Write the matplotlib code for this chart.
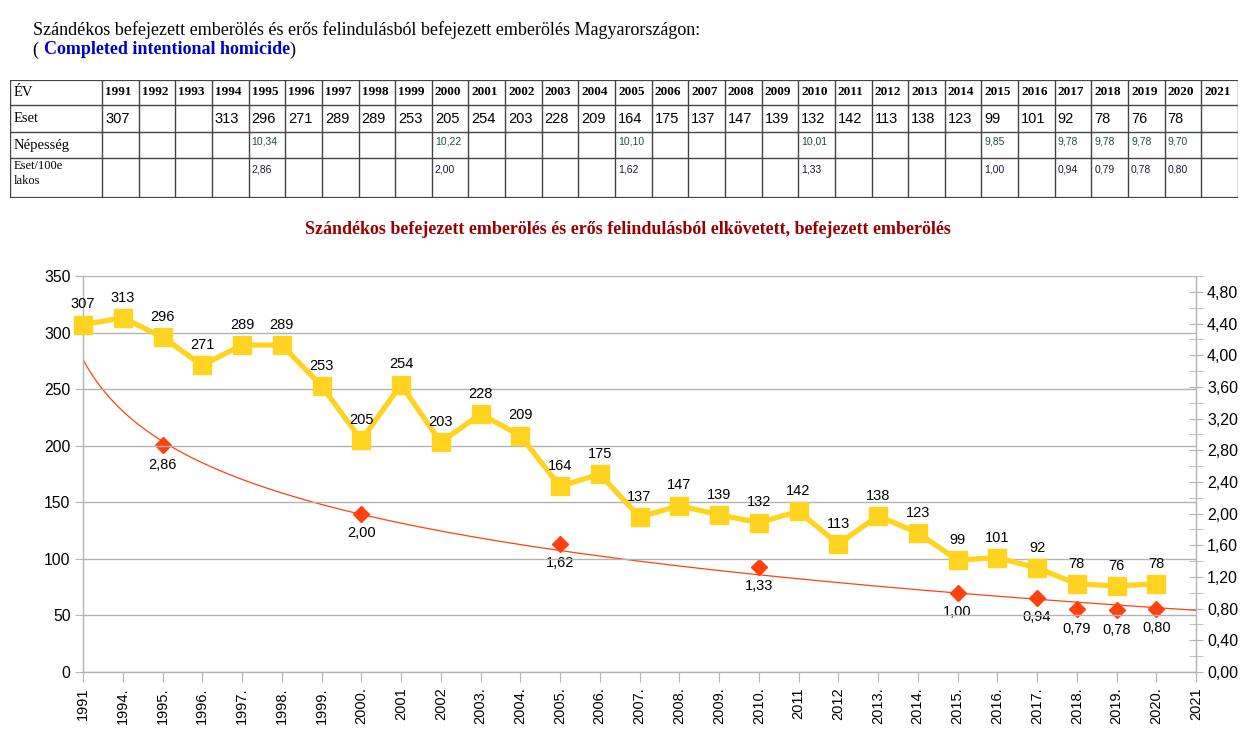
import numpy as np
import matplotlib
matplotlib.use("Agg")
import matplotlib.pyplot as plt
from matplotlib.ticker import MultipleLocator, FuncFormatter

# ---------------- data ----------------
table_years = list(range(1991, 2022))
table_eset = [307, None, None, 313, 296, 271, 289, 289, 253, 205, 254, 203, 228, 209,
              164, 175, 137, 147, 139, 132, 142, 113, 138, 123, 99, 101, 92, 78, 76, 78, None]
table_nep = [None, None, None, None, 10.34, None, None, None, None, 10.22, None, None, None, None,
             10.10, None, None, None, None, 10.01, None, None, None, None, 9.85, None, 9.78, 9.78,
             9.78, 9.70, None]
table_rate = [None, None, None, None, 2.86, None, None, None, None, 2.00, None, None, None, None,
              1.62, None, None, None, None, 1.33, None, None, None, None, 1.00, None, 0.94, 0.79,
              0.78, 0.80, None]
row_labels = ["ÉV", "Eset", "Népesség", "Eset/100e\nlakos"]

chart_labels = ["1991", "1994.", "1995.", "1996.", "1997.", "1998.", "1999.", "2000.", "2001",
                "2002", "2003.", "2004.", "2005.", "2006.", "2007.", "2008.", "2009.", "2010.",
                "2011", "2012", "2013.", "2014.", "2015.", "2016.", "2017.", "2018.", "2019.",
                "2020.", "2021"]
chart_eset = [307, 313, 296, 271, 289, 289, 253, 205, 254, 203, 228, 209, 164, 175, 137, 147,
              139, 132, 142, 113, 138, 123, 99, 101, 92, 78, 76, 78, None]
chart_rate = [None, None, 2.86, None, None, None, None, 2.00, None, None, None, None, 1.62, None,
              None, None, None, 1.33, None, None, None, None, 1.00, None, 0.94, 0.79, 0.78, 0.80,
              None]

title_line1 = "Szándékos befejezett emberölés és erős felindulásból befejezett emberölés Magyarországon:"
title_line2 = "Completed intentional homicide"
chart_title = "Szándékos befejezett emberölés és erős felindulásból elkövetett, befejezett emberölés"

# ---------------- figure ----------------
W, H = 1255, 754
fig = plt.figure(figsize=(W / 100, H / 100), dpi=100)
fig.patch.set_facecolor("white")

SERIF = ["Liberation Serif", "DejaVu Serif"]
SANS = ["Liberation Sans", "DejaVu Sans"]

def fx(px):
    return px / W

def fy(py):
    return 1 - py / H

# header texts
fig.text(fx(33), fy(30), title_line1, family=SERIF, fontsize=13, va="center", ha="left")
t1 = fig.text(fx(33), fy(50), "( ", family=SERIF, fontsize=13, va="center", ha="left")
fig.canvas.draw()
r = fig.canvas.get_renderer()
bb = t1.get_window_extent(r)
t2 = fig.text(bb.x1 / W, fy(50), title_line2, family=SERIF, fontsize=13, va="center",
              ha="left", color="#0000cc", fontweight="bold")
bb2 = t2.get_window_extent(r)
fig.text(bb2.x1 / W, fy(50), ")", family=SERIF, fontsize=13, va="center", ha="left")

# ---------------- table ----------------
tx0, ty0, tw, th = 10, 80, 1228, 118
tax = fig.add_axes([fx(tx0), fy(ty0 + th), tw / W, th / H])
tax.set_xlim(0, tw)
tax.set_ylim(th, 0)
tax.axis("off")
first_w = 92
col_w = (tw - first_w) / len(table_years)
col_edges = [0, first_w] + [first_w + col_w * (i + 1) for i in range(len(table_years))]
row_edges = [0, 25, 52, 78, 118]
lc = "#444444"
for xe in col_edges:
    tax.plot([xe, xe], [0, th], color=lc, lw=1.0, solid_capstyle="butt")
for ye in row_edges:
    tax.plot([0, tw], [ye, ye], color=lc, lw=1.0 if ye not in (0, th) else 1.6,
             solid_capstyle="butt")

def fmt_c(v):
    return f"{v:.2f}".replace(".", ",")

tax.text(4, 12.5, row_labels[0], family=SERIF, fontsize=10.5, va="center", ha="left")
tax.text(4, 38.5, row_labels[1], family=SERIF, fontsize=10.5, va="center", ha="left")
tax.text(4, 65, row_labels[2], family=SERIF, fontsize=10.5, va="center", ha="left")
tax.text(4, 80, row_labels[3], family=SERIF, fontsize=9, va="top", ha="left",
         linespacing=1.3)
for i, yv in enumerate(table_years):
    cx = first_w + col_w * i + 3
    tax.text(cx, 12.5, str(yv), family=SERIF, fontsize=9.5, fontweight="bold",
             va="center", ha="left")
    if table_eset[i] is not None:
        tax.text(cx, 39, str(table_eset[i]), family=SANS, fontsize=10.5, va="center", ha="left")
    if table_nep[i] is not None:
        tax.text(cx, 61, fmt_c(table_nep[i]), family=SANS, fontsize=7.5, va="center",
                 ha="left", color="#1f4f3f")
    if table_rate[i] is not None:
        tax.text(cx, 89, fmt_c(table_rate[i]), family=SANS, fontsize=7.5, va="center",
                 ha="left", color="#1a1a3a")

# chart title
fig.text(fx(628), fy(229), chart_title, family=SERIF, fontsize=13, fontweight="bold",
         color="#990000", ha="center", va="center")

# ---------------- chart ----------------
ax_l, ax_r, ax_t, ax_b = 83, 1196, 276, 672
ax = fig.add_axes([fx(ax_l), fy(ax_b), (ax_r - ax_l) / W, (ax_b - ax_t) / H])
ax2 = ax.twinx()
ax.set_zorder(ax2.get_zorder() + 1)
ax.patch.set_visible(False)

n = len(chart_labels)
xs = np.arange(n)
grid_c = "#b3b3b3"
ax.set_xlim(0, n - 1)
ax.set_ylim(0, 350)

ax.yaxis.set_major_locator(MultipleLocator(50))
ax.grid(axis="y", color=grid_c, lw=1.0)
ax.set_axisbelow(True)
ax.spines["top"].set_visible(False)
ax2.spines["top"].set_visible(False)
for a in (ax, ax2):
    for s in ["left", "right", "bottom"]:
        a.spines[s].set_color(grid_c)
        a.spines[s].set_linewidth(1.0)
ax2.spines["left"].set_visible(False)
ax2.spines["bottom"].set_visible(False)
ax.spines["right"].set_visible(False)

ax.set_xticks(xs)
ax.set_xticklabels(chart_labels, rotation=90, family=SANS, fontsize=10.5, va="top", ha="center")
ax.tick_params(axis="x", direction="out", length=7, color=grid_c, pad=4)
ax.tick_params(axis="y", direction="out", length=6, color=grid_c, labelsize=11.3, pad=3)
for lab in ax.get_yticklabels():
    lab.set_family(SANS)

ax2.set_yticks(np.arange(0, 5.0, 0.4))
ax2.yaxis.set_minor_locator(MultipleLocator(0.2))
ax2.yaxis.set_major_formatter(FuncFormatter(lambda v, p: f"{v:.2f}".replace(".", ",")))
ax2.set_ylim(0, 5.0)
ax2.tick_params(axis="y", which="both", direction="inout", length=10, color=grid_c,
                labelsize=11.5, pad=3)
for lab in ax2.get_yticklabels():
    lab.set_family(SANS)

# yellow series
ex = [x for x, v in zip(xs, chart_eset) if v is not None]
ev = [v for v in chart_eset if v is not None]
yellow = "#ffd320"
ax.plot(ex, ev, color=yellow, lw=3.8, marker="s", ms=12.5, mfc=yellow, mec=yellow,
        zorder=5, clip_on=False)
for x, v in zip(ex, ev):
    ax.annotate(str(v), (x, v), xytext=(0, 9.5), textcoords="offset points", ha="center",
                va="bottom", family=SANS, fontsize=10.5, zorder=6)

# red series + logarithmic trend line
red = "#ff420e"
rx = np.array([x for x, v in zip(xs, chart_rate) if v is not None])
rv = np.array([v for v in chart_rate if v is not None])
b, a = np.polyfit(np.log(rx + 1), rv, 1)
xt = np.linspace(0, n - 1, 400)
ax2.plot(xt, a + b * np.log(xt + 1), color=red, lw=0.9, zorder=2)
ax2.plot(rx, rv, ls="none", marker="D", ms=8.5, mfc=red, mec=red, zorder=3)
for x, v in zip(rx, rv):
    ax2.annotate(fmt_c(v), (x, v), xytext=(0, -9), textcoords="offset points", ha="center",
                 va="top", family=SANS, fontsize=10.5)

fig.savefig("out.png", dpi=100, facecolor="white")
